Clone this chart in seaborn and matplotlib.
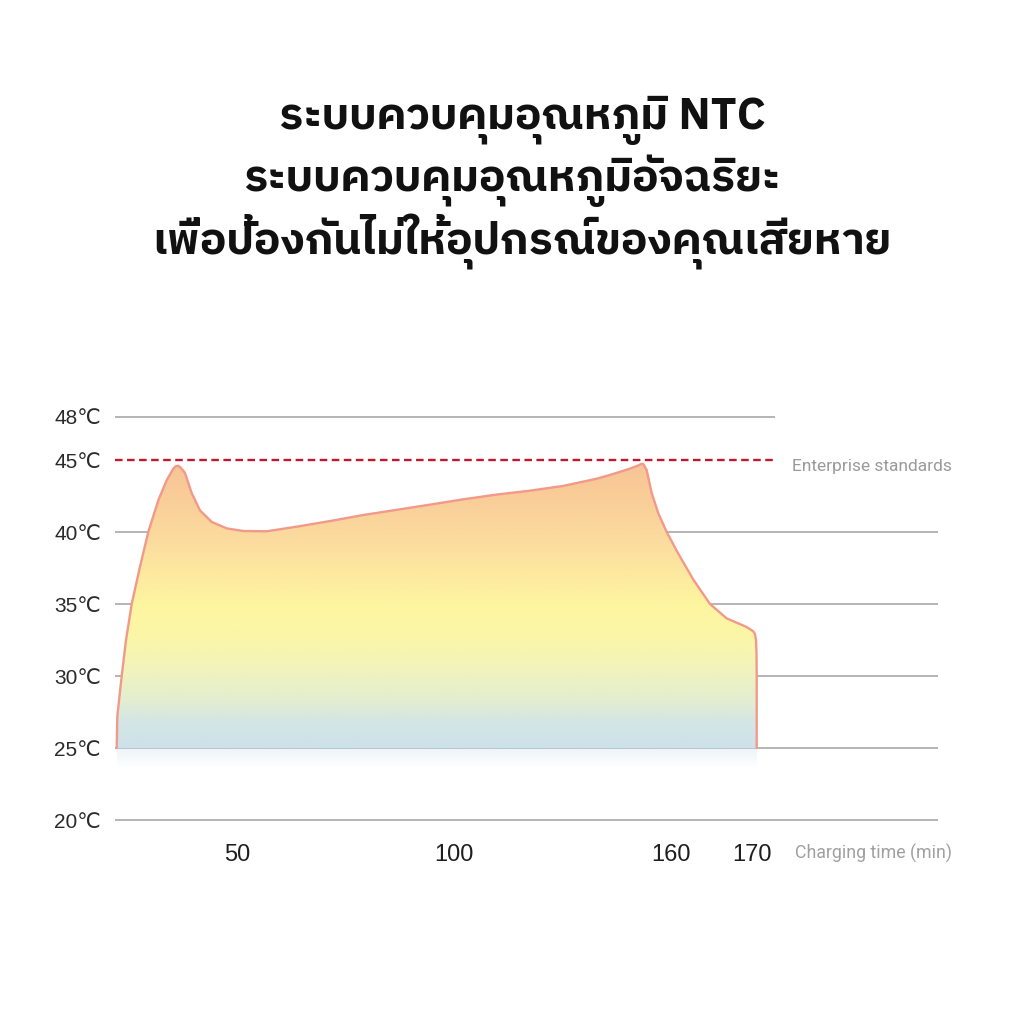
import numpy as np
import matplotlib
matplotlib.use("Agg")
import matplotlib.pyplot as plt
import seaborn as sns
from matplotlib import font_manager, ft2font
from matplotlib.colors import LinearSegmentedColormap

# ---- data ----
title_lines = [
    "ระบบควบคุมอุณหภูมิ NTC",
    "ระบบควบคุมอุณหภูมิอัจฉริยะ",
    "เพื่อป้องกันไม่ให้อุปกรณ์ของคุณเสียหาย",
]

time_min = [0.70, 0.94, 2.75, 4.51, 6.84, 10.25, 13.65, 17.75, 21.19, 23.89,
            24.80, 25.94, 27.05, 28.69, 31.43, 34.84, 39.63, 45.78, 51.45, 56.84,
            63.76, 71.43, 79.10, 94.47, 102.57, 111.81, 121.01, 130.22, 139.46, 144.05,
            148.66, 150.96, 151.70, 152.34, 153.28, 154.67, 156.49, 158.81, 160.90, 162.75,
            164.81, 166.88, 169.35, 170.21, 170.48, 170.65, 170.73, 170.76, 170.76]
temp_c = [25.0, 27.2, 30.0, 32.5, 35.0, 37.6, 40.0, 42.2, 43.6, 44.4,
          44.55, 44.6, 44.45, 44.1, 42.7, 41.5, 40.7, 40.25, 40.07, 40.05,
          40.37, 40.76, 41.18, 41.9, 42.27, 42.6, 42.87, 43.2, 43.7, 44.03,
          44.4, 44.62, 44.72, 44.72, 44.3, 42.7, 41.3, 40.0, 38.5, 36.7,
          35.0, 34.0, 33.4, 33.1, 32.9, 32.5, 31.5, 30.0, 25.0]

y_ticks = [20, 25, 30, 35, 40, 45, 48]
x_ticks = [50, 100, 160, 170]
standard_temp = 45
base_temp = 25
x_label = "Charging time (min)"
standard_label = "Enterprise standards"

# the time axis in the picture is not linear: breakpoints -> axis offset (px)
time_breaks = [0, 50, 100, 160, 170, 200]
axis_pos = [0, 122, 339, 556, 637, 823]


def find_thai_font():
    """Pick an installed font that has Thai glyphs, bold preferred."""
    best, best_score = None, -1
    for fe in font_manager.fontManager.ttflist:
        try:
            cmap = ft2font.FT2Font(fe.fname).get_charmap()
        except Exception:
            continue
        if 0x0E01 not in cmap or 0x0E2D not in cmap:
            continue
        w = fe.weight if isinstance(fe.weight, int) else 400
        score = 10 if w >= 600 else 0
        if "sans" in fe.name.lower() or "loop" in fe.name.lower():
            score += 5
        if score > best_score:
            best, best_score = fe, score
    return best


sns.set_theme(style="white")
plt.rcParams['font.family'] = ['DejaVu Sans']

fig = plt.figure(figsize=(10.24, 10.24), dpi=100)
ax = fig.add_axes([115 / 1024, 1 - 834.4 / 1024, 823 / 1024, (834.4 - 388) / 1024])
ax.set_xscale('function', functions=(lambda t: np.interp(t, time_breaks, axis_pos),
                                     lambda p: np.interp(p, axis_pos, time_breaks)))

# grid lines
grey = "#A8A8A8"
for y in y_ticks:
    if y == standard_temp:
        continue
    xmax = 173.7 if y == 48 else 200
    ax.hlines(y, 0, xmax, color=grey, lw=1.2, zorder=1)
ax.hlines(standard_temp, 0, 173.7, color="#C2182E", lw=1.7,
          linestyles=(0, (3.2, 1.9)), zorder=1)

# gradient filled area
poly = ax.fill_between(time_min, temp_c, base_temp, color='none', lw=0)
cmap = LinearSegmentedColormap.from_list("heat", [
    (0.00, "#CDE1EB"), (0.09, "#D4E6E4"), (0.17, "#E4EECF"), (0.26, "#F0F3BF"),
    (0.38, "#FBF7A8"), (0.50, "#FEF5A0"), (0.70, "#FCDE9F"), (0.88, "#F9CC98"),
    (1.00, "#F7C497")])
grad = np.linspace(0, 1, 256).reshape(-1, 1)
im = ax.imshow(grad, extent=[0, 1, base_temp, 45], transform=ax.get_yaxis_transform(),
               aspect='auto', cmap=cmap, origin='lower', zorder=2, interpolation='bicubic')
im.set_clip_path(poly.get_paths()[0], transform=ax.transData)

# soft fade under the base line
steps = 10
for k in range(steps):
    ax.fill_between([time_min[0], time_min[-1]], base_temp - k * 0.13, base_temp - (k + 1) * 0.13,
                    color="#CFE2EA", alpha=0.35 * (1 - k / steps), lw=0, zorder=2)

sns.lineplot(x=time_min, y=temp_c, sort=False, estimator=None, ax=ax,
             color="#F2998A", lw=1.7, zorder=3, solid_joinstyle='round')

ax.set_xlim(0, 200)
ax.set_ylim(19, 50)
sns.despine(ax=ax, left=True, bottom=True)
ax.grid(False)

ax.set_yticks(y_ticks)
ax.set_yticklabels([f"{v}℃" for v in y_ticks], fontsize=15, color="#2A2A2A",
                   family=['Liberation Sans', 'DejaVu Sans'])
ax.set_xticks(x_ticks)
ax.set_xticklabels([str(v) for v in x_ticks], fontsize=17, color="#1E1E1E",
                   family=['Liberation Sans', 'DejaVu Sans'])
ax.tick_params(axis='y', length=0, pad=10)
ax.tick_params(axis='x', length=0, pad=7)
ax.minorticks_off()

fig.text(792 / 1024, 1 - 466 / 1024, standard_label, fontsize=12.5, color="#9A9A9A",
         ha='left', va='center', family=['Roboto', 'DejaVu Sans'])
fig.text(795 / 1024, 1 - 853 / 1024, x_label, fontsize=12.8, color="#A0A0A0",
         ha='left', va='center', family=['Roboto', 'DejaVu Sans'])

thai = find_thai_font()
title_family = [thai.name, 'DejaVu Sans'] if thai else ['DejaVu Sans']
title_shift = [10, 0, 10]
for i, line in enumerate(title_lines):
    fig.text(0.5 + title_shift[i] / 1024, 1 - (120 + 61 * i) / 1024, line,
             ha='center', va='center', fontsize=32, fontweight='bold',
             color="#111111", family=title_family)

fig.savefig("out.png", dpi=100, facecolor="white")
